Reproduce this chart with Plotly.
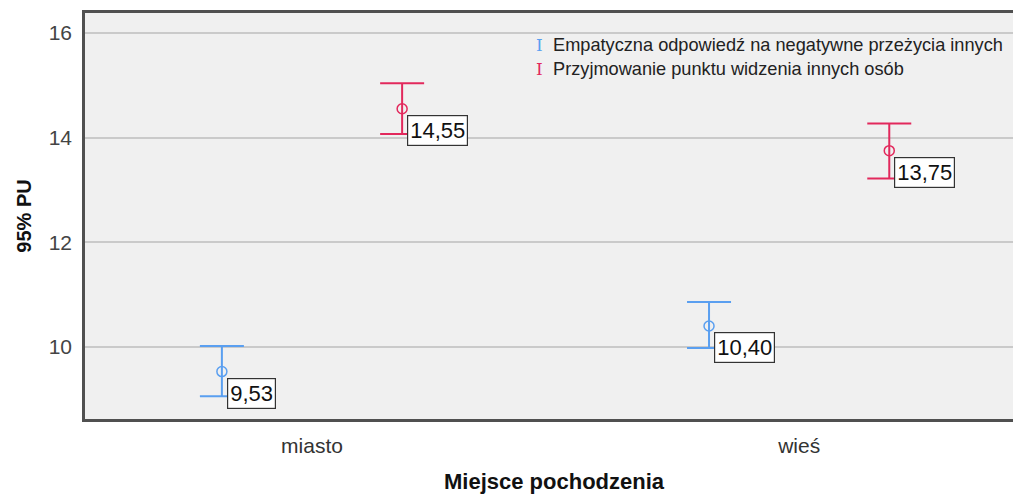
import plotly.graph_objects as go

# Category axis (origin of respondents)
categories = ["miasto", "wieś"]

# Series: mean and 95% confidence interval bounds
series_names = [
    "Empatyczna odpowiedź na negatywne przeżycia innych",
    "Przyjmowanie punktu widzenia innych osób",
]
means = [
    [9.53, 10.40],
    [14.55, 13.75],
]
upper = [
    [10.02, 10.86],
    [15.04, 14.27],
]
lower = [
    [9.06, 9.98],
    [14.07, 13.22],
]

colors = ["#5a9ff0", "#e2285c"]
offsets = [-0.185, 0.185]
cat_pos = list(range(len(categories)))
FONT = "Liberation Sans, Arial, sans-serif"

fig = go.Figure()

for s, name in enumerate(series_names):
    xs = [p + offsets[s] for p in cat_pos]
    fig.add_trace(go.Scatter(
        x=xs,
        y=means[s],
        mode="markers",
        name=name,
        showlegend=False,
        marker=dict(symbol="circle-open", size=10, color=colors[s],
                    line=dict(width=1.5, color=colors[s])),
        error_y=dict(
            type="data",
            symmetric=False,
            array=[u - m for u, m in zip(upper[s], means[s])],
            arrayminus=[m - l for m, l in zip(means[s], lower[s])],
            color=colors[s],
            thickness=2,
            width=22,
        ),
        hoverinfo="skip",
    ))
    # value labels next to each mean
    for x, m in zip(xs, means[s]):
        fig.add_annotation(
            x=x, y=m, xref="x", yref="y",
            text=f"{m:.2f}".replace(".", ","),
            showarrow=False,
            xanchor="left", yanchor="top",
            xshift=5, yshift=-6,
            font=dict(family=FONT, size=22, color="#111111"),
            bgcolor="#ffffff",
            bordercolor="#333333",
            borderwidth=1.2,
            borderpad=2,
        )

# legend drawn as text rows with coloured I-beam glyphs
legend_y = [0.92, 0.862]
for s, name in enumerate(series_names):
    fig.add_annotation(
        x=0.490, y=legend_y[s], xref="paper", yref="paper",
        text="I", showarrow=False, xanchor="center", yanchor="middle",
        font=dict(family="DejaVu Serif, serif", size=17, color=colors[s]),
    )
    fig.add_annotation(
        x=0.502, y=legend_y[s], xref="paper", yref="paper",
        text=name, showarrow=False, xanchor="left", yanchor="middle",
        font=dict(family=FONT, size=18.2, color="#222222"),
    )

# x-axis title
fig.add_annotation(
    x=0.506, y=-0.154, xref="paper", yref="paper",
    text="<b>Miejsce pochodzenia</b>", showarrow=False,
    xanchor="center", yanchor="middle",
    font=dict(family=FONT, size=22, color="#111111"),
)

fig.update_layout(
    width=1013, height=495,
    margin=dict(l=85, r=0, t=13, b=76),
    paper_bgcolor="#ffffff",
    plot_bgcolor="#f0f0f0",
    showlegend=False,
    font=dict(family=FONT, color="#333333"),
)

fig.update_xaxes(
    range=[-0.466, 1.439],
    tickvals=cat_pos,
    ticktext=categories,
    showgrid=False,
    zeroline=False,
    showline=True, linecolor="#505050", linewidth=2.5, mirror=True,
    ticks="", tickfont=dict(size=21, color="#333333"),
    ticklabelstandoff=6,
)

fig.update_yaxes(
    range=[8.624, 16.38],
    tickvals=[10, 12, 14, 16],
    ticktext=["10", "12", "14", "16"],
    showgrid=True, gridcolor="#cacaca", gridwidth=1.5,
    zeroline=False,
    showline=True, linecolor="#505050", linewidth=2.5,
    ticks="", tickfont=dict(size=21, color="#444444"),
    ticklabelstandoff=6,
    title=dict(text="<b>95% PU</b>", font=dict(size=20, color="#111111"), standoff=12),
)

fig.write_html("out.html")
